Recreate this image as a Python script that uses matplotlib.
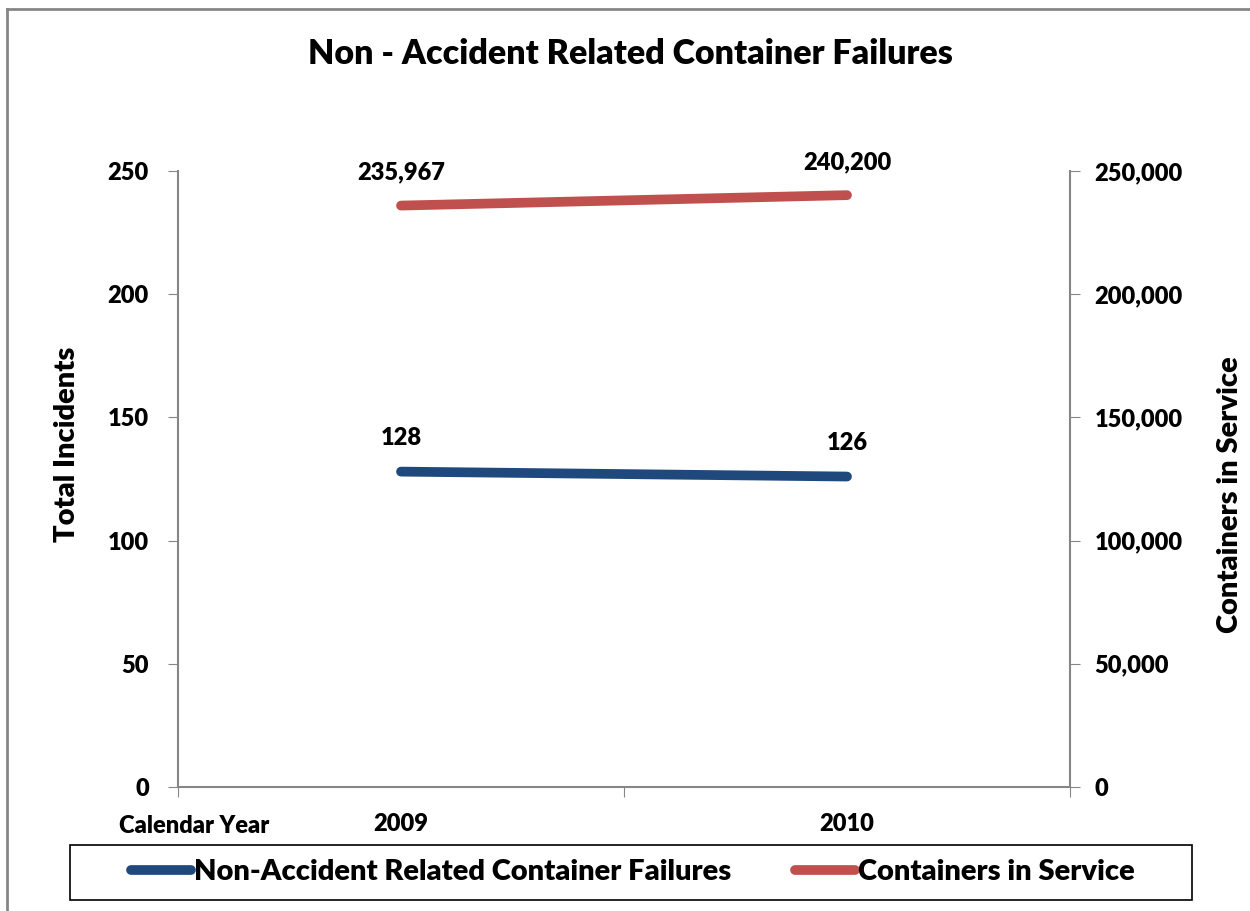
import matplotlib.pyplot as plt
from matplotlib.lines import Line2D
from matplotlib.patches import Rectangle

plt.rcParams['font.family'] = ['Lato', 'DejaVu Sans']
plt.rcParams['font.weight'] = 'heavy'
plt.rcParams['axes.labelweight'] = 'heavy'

years = ['2009', '2010']
failures = [128, 126]
in_service = [235967, 240200]

blue = '#1F497D'
red = '#C0504D'
grey = '#868686'

fig = plt.figure(figsize=(12.5, 9.11), dpi=100)
ax = fig.add_axes([0.1424, 0.1361, 0.7136, 0.6762])
ax2 = ax.twinx()

x = range(len(years))
ax.plot(x, failures, color=blue, lw=7, solid_capstyle='round', zorder=3)
ax2.plot(x, in_service, color=red, lw=7, solid_capstyle='round', zorder=3)

for xi, v in zip(x, failures):
    ax.annotate(str(v), (xi, v), xytext=(0, 16), textcoords='offset points',
                ha='center', va='bottom', fontsize=17)
for xi, v in zip(x, in_service):
    ax2.annotate(f'{v:,}', (xi, v), xytext=(0, 16), textcoords='offset points',
                 ha='center', va='bottom', fontsize=17)

ax.set_xlim(-0.5, 1.5)
ax.set_ylim(0, 250)
ax2.set_ylim(0, 250000)
ax.set_yticks(range(0, 251, 50))
ax2.set_yticks(range(0, 250001, 50000))
ax2.set_yticklabels([f'{v:,}' for v in range(0, 250001, 50000)])

ax.set_xticks([-0.5, 0.5, 1.5])
ax.set_xticklabels([])
ax.set_xticks([0, 1], minor=True)
ax.set_xticklabels(years, minor=True)
ax.tick_params(axis='x', which='minor', length=0, pad=18.5, labelsize=17)
ax.tick_params(axis='x', which='major', length=7, color=grey, direction='out')

ax.tick_params(axis='y', length=7, color=grey, labelsize=17, pad=14)
ax2.tick_params(axis='y', length=7, color=grey, labelsize=17, pad=10.5)

for a in (ax, ax2):
    a.spines['top'].set_visible(False)
    for s in ('left', 'right', 'bottom'):
        a.spines[s].set_color(grey)
        a.spines[s].set_linewidth(1.5)
ax.spines['right'].set_visible(False)
ax2.spines['left'].set_visible(False)
ax2.spines['bottom'].set_visible(False)

ax.set_ylabel('Total Incidents', fontsize=21)
ax.yaxis.set_label_coords(-0.110, 0.557)
ax2.set_ylabel('Containers in Service', fontsize=21)
ax2.yaxis.set_label_coords(1.1648, 0.474)

fig.text(0.155, 0.093, 'Calendar Year', ha='center', va='center', fontsize=17)
fig.text(0.504, 0.941, 'Non - Accident Related Container Failures', ha='center', va='center',
         fontsize=24.5)

handles = [Line2D([], [], color=blue, lw=7, solid_capstyle='round'),
           Line2D([], [], color=red, lw=7, solid_capstyle='round')]
fig.legend(handles, ['Non-Accident Related Container Failures', 'Containers in Service'],
           loc='center', bbox_to_anchor=(0.5064, 0.0425), ncol=2, frameon=False,
           fontsize=21, handlelength=2.05, handletextpad=0.1, columnspacing=2.2)
fig.add_artist(Rectangle((0.056, 0.0121), 0.8976, 0.0604, transform=fig.transFigure,
                         fill=False, edgecolor='black', lw=1.2))

# outer chart border (left and top)
fig.add_artist(Line2D([0.0056, 0.0056], [0, 0.990], color=grey, lw=2, transform=fig.transFigure))
fig.add_artist(Line2D([0.0056, 1.0], [0.990, 0.990], color=grey, lw=2, transform=fig.transFigure))

fig.savefig('out.png', dpi=100)
